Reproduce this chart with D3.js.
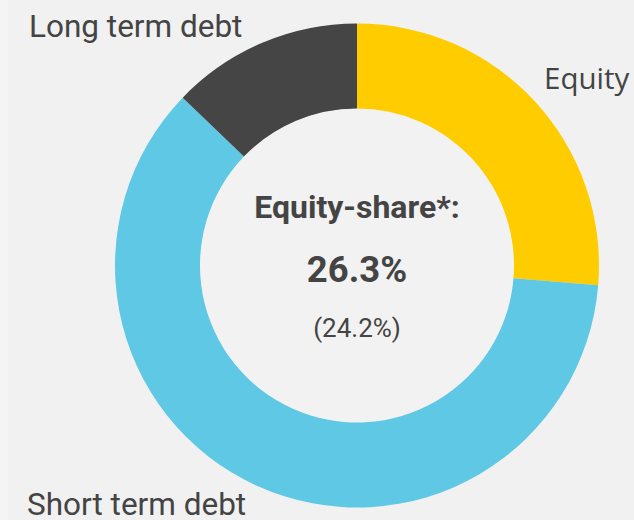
<!DOCTYPE html>
<html>
<head>
<meta charset="utf-8">
<script src="https://cdn.jsdelivr.net/npm/d3@7"></script>
<style>
  body { margin: 0; background: #f4f4f4; }
  svg { display: block; }
  text { font-family: Roboto, sans-serif; fill: #444444; }
</style>
</head>
<body>
<svg id="chart" width="634" height="520"></svg>
<script>
// dati
var categories = ["Equity", "Short term debt", "Long term debt"];
var shares = [26.3, 60.9, 12.8];
var colours = ["#ffcc00", "#5ec8e5", "#454545"];
var centreTitle = "Equity-share*:";
var centreValue = "26.3%";
var centrePrev = "(24.2%)";

var svg = d3.select("#chart");
var width = 634, height = 520;
var cx = 357, cy = 265.5;
var outerR = 242, innerR = 157;

svg.append("rect").attr("x", 8).attr("y", 0)
    .attr("width", width - 8).attr("height", height)
    .attr("fill", "#f1f1f1");

var pie = d3.pie().sort(null).value(function(d) { return d; });
var arc = d3.arc().innerRadius(innerR).outerRadius(outerR);
var colour = d3.scaleOrdinal().domain(categories).range(colours);

var g = svg.append("g").attr("transform", "translate(" + cx + "," + cy + ")");

g.selectAll(".slice").data(pie(shares)).enter().append("path")
    .attr("class", "slice")
    .attr("d", arc)
    .attr("fill", function(d, i) { return colour(categories[i]); });

g.append("circle").attr("r", innerR - 0.5).attr("fill", "#f2f2f2");

// etichette delle fette
var labelPos = [
  { x: 544, y: 89, anchor: "start", size: 29.5, family: "'Open Sans', sans-serif" },
  { x: 27, y: 515, anchor: "start", size: 31.5, family: "Roboto, sans-serif" },
  { x: 29, y: 37, anchor: "start", size: 31.5, family: "Roboto, sans-serif" }
];
svg.selectAll(".lbl").data(categories).enter().append("text")
    .attr("class", "lbl")
    .attr("x", function(d, i) { return labelPos[i].x; })
    .attr("y", function(d, i) { return labelPos[i].y; })
    .attr("text-anchor", function(d, i) { return labelPos[i].anchor; })
    .style("font-size", function(d, i) { return labelPos[i].size + "px"; })
    .style("font-family", function(d, i) { return labelPos[i].family; })
    .text(function(d) { return d; });

// testo centrale
svg.append("text").attr("x", cx).attr("y", 218)
    .attr("text-anchor", "middle")
    .style("font-size", "32px").style("font-weight", "bold")
    .text(centreTitle);
svg.append("text").attr("x", cx).attr("y", 282)
    .attr("text-anchor", "middle")
    .style("font-size", "36.5px").style("font-weight", "bold")
    .text(centreValue);
svg.append("text").attr("x", cx).attr("y", 337)
    .attr("text-anchor", "middle")
    .style("font-size", "26px")
    .text(centrePrev);
</script>
</body>
</html>
